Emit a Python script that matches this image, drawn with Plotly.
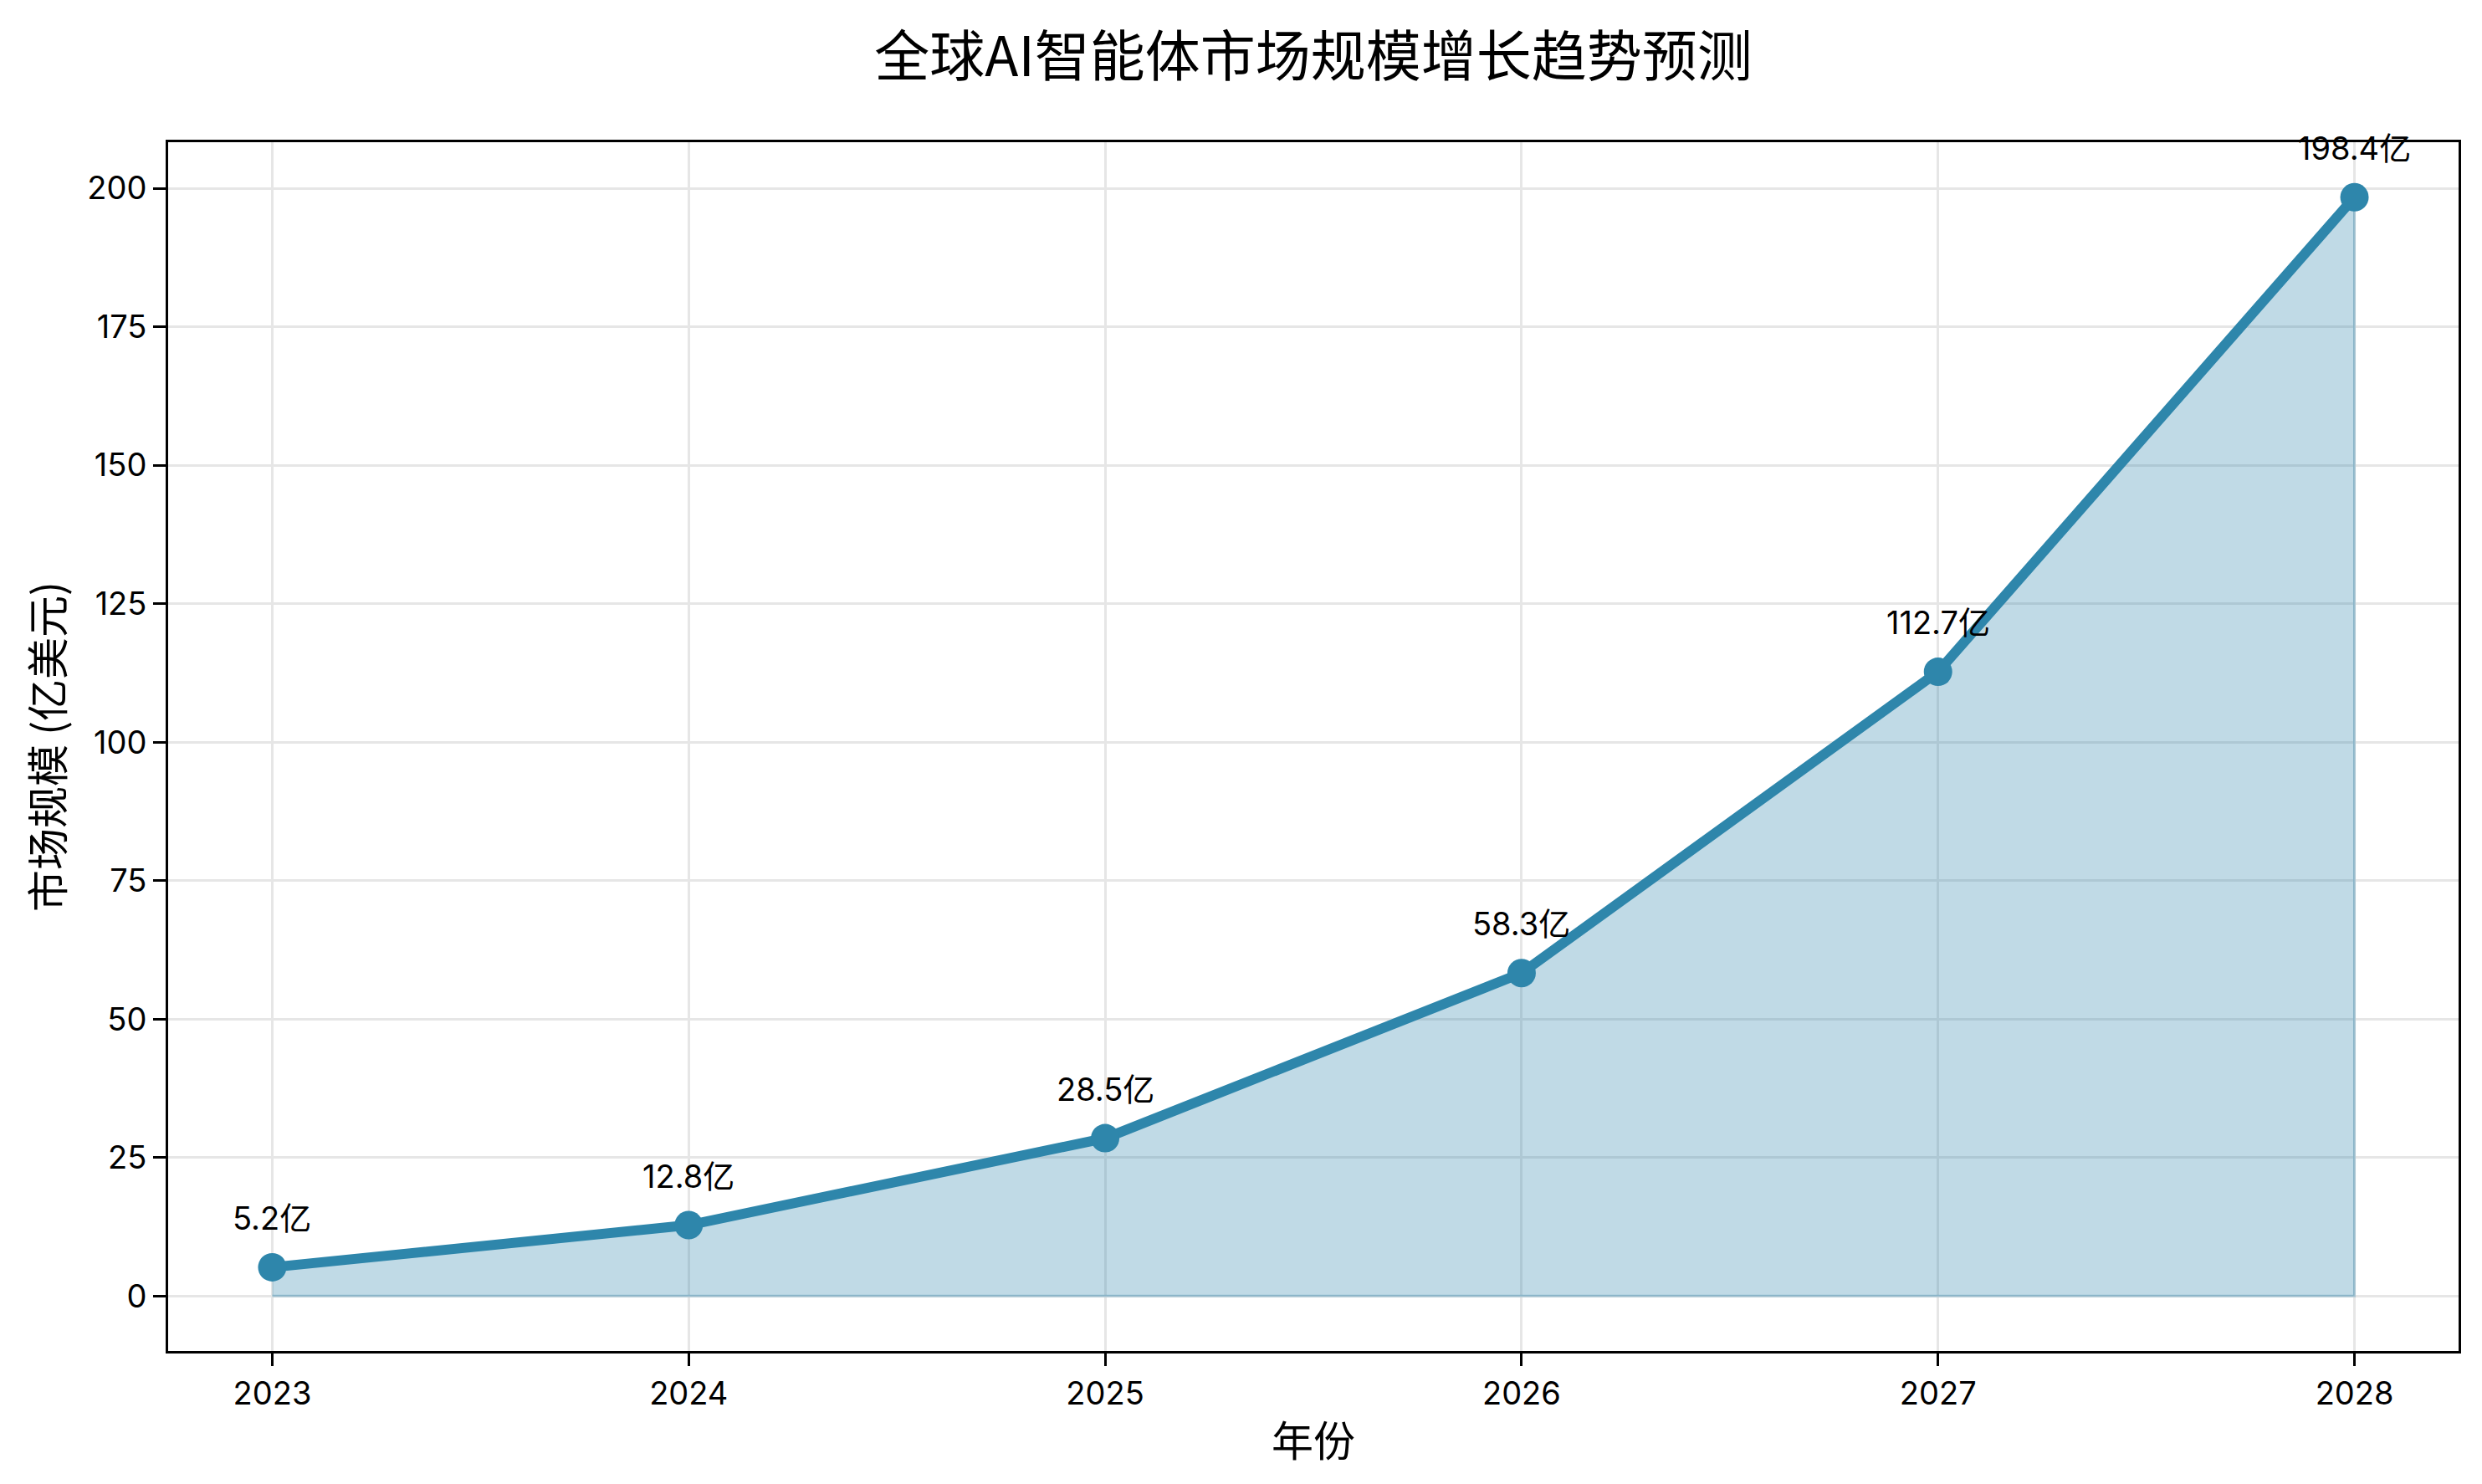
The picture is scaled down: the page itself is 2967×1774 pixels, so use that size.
import plotly.graph_objects as go

# Market size forecast, 100M USD
YEARS = [2023, 2024, 2025, 2026, 2027, 2028]
MARKET_SIZE = [5.2, 12.8, 28.5, 58.3, 112.7, 198.4]
POINT_LABELS = ["5.2亿", "12.8亿", "28.5亿", "58.3亿", "112.7亿", "198.4亿"]

TITLE = "全球AI智能体市场规模增长趋势预测"
X_TITLE = "年份"
Y_TITLE = "市场规模 (亿美元)"

LINE_COLOR = "#2E86AB"
FILL_COLOR = "rgba(46,134,171,0.3)"
GRID_COLOR = "#e6e6e6"
FONT = "Inter, Noto Sans CJK SC, sans-serif"
CJK_FONT = "Noto Sans CJK SC, sans-serif"

fig = go.Figure()

# shaded area under the curve (closed polygon down to zero)
fig.add_trace(go.Scatter(
    x=YEARS + [YEARS[-1], YEARS[0]],
    y=MARKET_SIZE + [0, 0],
    mode="lines",
    fill="toself",
    fillcolor=FILL_COLOR,
    line=dict(color=FILL_COLOR, width=3),
    hoverinfo="skip",
    showlegend=False,
))

fig.add_trace(go.Scatter(
    x=YEARS,
    y=MARKET_SIZE,
    mode="lines+markers",
    line=dict(color=LINE_COLOR, width=12),
    marker=dict(color=LINE_COLOR, size=34),
    showlegend=False,
))

for year, value, label in zip(YEARS, MARKET_SIZE, POINT_LABELS):
    fig.add_annotation(
        x=year, y=value, text=label, showarrow=False,
        xanchor="center", yanchor="bottom", yshift=34,
        font=dict(family=FONT, size=38, color="#000000"),
    )

axis_common = dict(
    showline=True, linecolor="#000000", linewidth=3, mirror=True,
    ticks="outside", ticklen=15, tickwidth=3, tickcolor="#000000",
    showgrid=True, gridcolor=GRID_COLOR, gridwidth=3,
    zeroline=False,
    tickfont=dict(family=FONT, size=38, color="#000000"),
)

fig.update_layout(
    width=2967, height=1774,
    title=dict(
        text=TITLE, xref="paper", x=0.5, xanchor="center",
        y=0.9617, yanchor="middle",
        font=dict(family=CJK_FONT, size=66, color="#000000"),
    ),
    xaxis=dict(
        **axis_common,
        range=[2022.75, 2028.25], dtick=1, tick0=2023,
        title=dict(text=X_TITLE, font=dict(family=CJK_FONT, size=50, color="#000000"), standoff=20),
    ),
    yaxis=dict(
        **axis_common,
        range=[-9.92, 208.32], dtick=25, tick0=0,
        title=dict(text=Y_TITLE, font=dict(family=CJK_FONT, size=50, color="#000000"), standoff=12),
    ),
    margin=dict(l=201, r=28, t=170, b=159),
    plot_bgcolor="#ffffff",
    paper_bgcolor="#ffffff",
)

fig.write_html(
    "out.html",
    config={"displayModeBar": False},
    post_script="document.body.style.margin='0';",
)
